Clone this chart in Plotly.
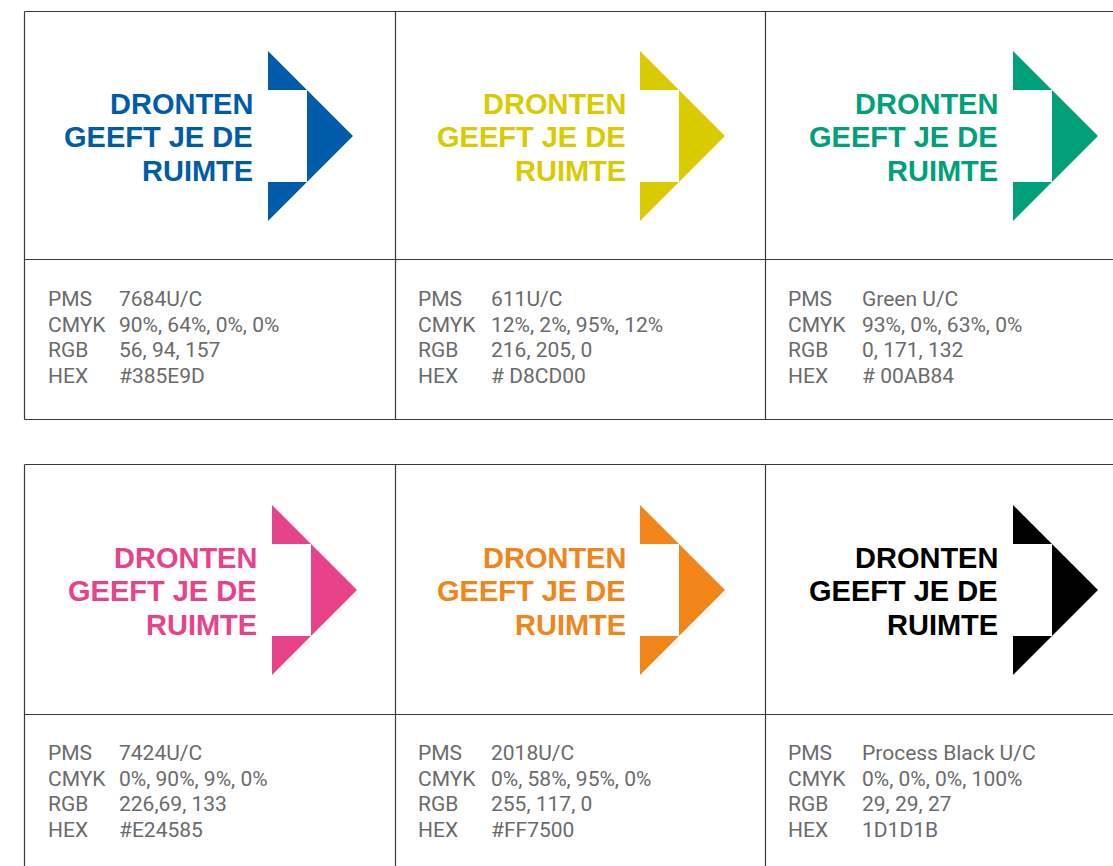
import plotly.graph_objects as go

# ---- data ----
swatch_colors = ["#005CA9", "#D8CB00", "#00A07A", "#E8428A", "#F18519", "#000000"]
pms = ["7684U/C", "611U/C", "Green U/C", "7424U/C", "2018U/C", "Process Black U/C"]
cmyk = ["90%, 64%, 0%, 0%", "12%, 2%, 95%, 12%", "93%, 0%, 63%, 0%",
        "0%, 90%, 9%, 0%", "0%, 58%, 95%, 0%", "0%, 0%, 0%, 100%"]
rgb = ["56, 94, 157", "216, 205, 0", "0, 171, 132", "226,69, 133", "255, 117, 0", "29, 29, 27"]
hexes = ["#385E9D", "# D8CD00", "# 00AB84", "#E24585", "#FF7500", "1D1D1B"]
labels = ["PMS", "CMYK", "RGB", "HEX"]
logo_lines = ["DRONTEN", "GEEFT JE DE", "RUIMTE"]

W, H = 1113, 866
fig = go.Figure()
shapes = []
annotations = []

line_col = "#3a3a3a"

def hline(y, x0, x1):
    shapes.append(dict(type="line", x0=x0, x1=x1, y0=y, y1=y, line=dict(color=line_col, width=1.2)))

def vline(x, y0, y1):
    shapes.append(dict(type="line", x0=x, x1=x, y0=y0, y1=y1, line=dict(color=line_col, width=1.2)))

# grid frames
rows = [dict(top=11.5, mid=259.5, bot=419.5), dict(top=464.5, mid=714.5, bot=None)]
col_x = [24.5, 395.5, 765.5]
for r in rows:
    hline(r["top"], 24.5, W)
    hline(r["mid"], 24.5, W)
    if r["bot"] is not None:
        hline(r["bot"], 24.5, W)
    for cx in col_x:
        vline(cx, r["top"], r["bot"] if r["bot"] is not None else H)

# logo positions per panel
arrow_left = [268, 640, 1013, 272, 640, 1013]
arrow_top = [51, 51, 51, 505, 505, 505]
text_right = [254, 627, 999, 258, 627, 999]
label_x = [46, 416, 786, 46, 416, 786]
value_x = [117, 489, 860, 117, 489, 860]
info_top = [299, 299, 299, 753, 753, 753]
line_offsets = [52, 85.5, 119]

for i, col in enumerate(swatch_colors):
    L = arrow_left[i]
    T = arrow_top[i]
    h = 170.0
    half = h / 2
    a = 39.0  # size of small corner triangles
    shapes.append(dict(type="path", path=f"M{L},{T} L{L},{T+a} L{L+a},{T+a} Z",
                       fillcolor=col, line=dict(width=0)))
    shapes.append(dict(type="path", path=f"M{L},{T+h} L{L},{T+h-a} L{L+a},{T+h-a} Z",
                       fillcolor=col, line=dict(width=0)))
    shapes.append(dict(type="path",
                       path=f"M{L+a},{T+a} L{L+half},{T+half} L{L+a},{T+h-a} Z",
                       fillcolor=col, line=dict(width=0)))
    # logo text
    for j, t in enumerate(logo_lines):
        annotations.append(dict(x=text_right[i], y=T + line_offsets[j] + 0.5, text=f"<b>{t}</b>",
                                showarrow=False, xanchor="right", yanchor="middle",
                                borderpad=0,
                                font=dict(family="Liberation Sans", size=29, color=col)))
    # info text
    vals = [pms[i], cmyk[i], rgb[i], hexes[i]]
    for k in range(4):
        y = info_top[i] + k * 25.7
        annotations.append(dict(x=label_x[i], y=y, text=labels[k], showarrow=False,
                                xanchor="left", yanchor="middle",
                                font=dict(family="Roboto", size=21, color="#6b6b6b")))
        annotations.append(dict(x=value_x[i], y=y, text=vals[k], showarrow=False,
                                xanchor="left", yanchor="middle",
                                font=dict(family="Roboto", size=21, color="#6b6b6b")))

fig.update_layout(
    width=W, height=H, margin=dict(l=0, r=0, t=0, b=0),
    paper_bgcolor="white", plot_bgcolor="white",
    xaxis=dict(range=[0, W], visible=False, fixedrange=True),
    yaxis=dict(range=[H, 0], visible=False, fixedrange=True),
    shapes=shapes, annotations=annotations, showlegend=False,
)
fig.write_html("out.html", config={"displayModeBar": False},
               post_script="document.body.style.margin='0';document.body.style.overflow='hidden';")
